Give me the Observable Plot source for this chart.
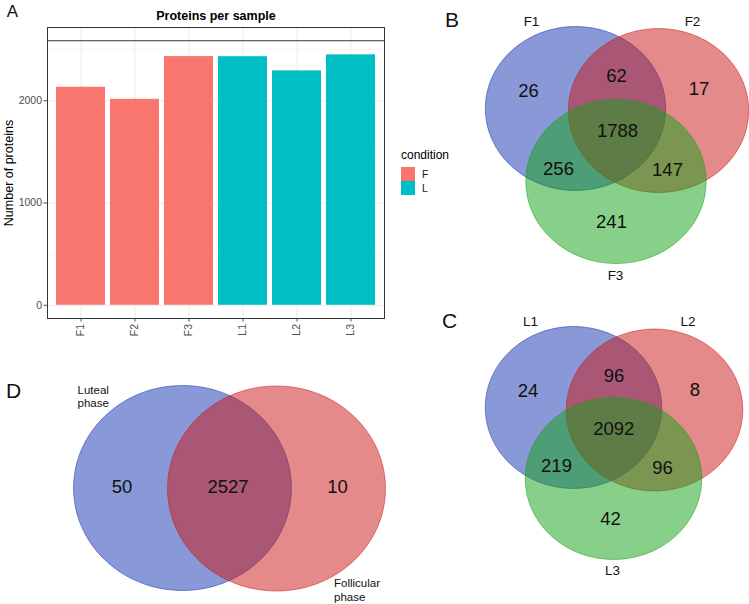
<!DOCTYPE html>
<html>
<head>
<meta charset="utf-8">
<script src="https://cdn.jsdelivr.net/npm/d3@7"></script>
<script src="https://cdn.jsdelivr.net/npm/@observablehq/plot@0.6"></script>
<style>
  html, body { margin: 0; padding: 0; background: white; }
  #page { position: relative; width: 749px; height: 604px; overflow: hidden; background: white; font-family: "Liberation Sans", Arial, sans-serif; }
  #page svg { position: absolute; left: 0; top: 0; }
  .legend { position: absolute; left: 401px; top: 148px; font-family: "Liberation Sans", Arial, sans-serif; }
  .legend .ttl { font-size: 12px; color: #000; line-height: 14px; margin-bottom: 5px; }
  .legend .item { display: flex; align-items: center; height: 14px; }
  .legend .sw { width: 14px; height: 14px; }
  .legend .lab { font-size: 10.5px; color: #1a1a1a; margin-left: 7px; }
</style>
</head>
<body>
<div id="page"></div>
<script>
// ---------------- DATA ----------------
// Panel A: proteins per sample
const samples = ["F1", "F2", "F3", "L1", "L2", "L3"];
const proteinCounts = [2132, 2014, 2432, 2431, 2292, 2449];
const sampleConditions = ["F", "F", "F", "L", "L", "L"];
const conditionLevels = ["F", "L"];
const conditionColors = ["#F8766D", "#00BFC4"];
const totalProteins = 2587;              // horizontal reference line
const yTicks = [0, 1000, 2000];
const yMinorTicks = [500, 1500, 2500];

// Panel B: follicular replicates (regions: 1 only, 2 only, 3 only, 1&2, 1&3, 2&3, all)
const follicularSets = ["F1", "F2", "F3"];
const follicularRegions = [26, 17, 241, 62, 256, 147, 1788];
// Panel C: luteal replicates
const lutealSets = ["L1", "L2", "L3"];
const lutealRegions = [24, 8, 42, 96, 219, 96, 2092];
// Panel D: phases (regions: luteal only, both, follicular only)
const phaseSets = ["Luteal\nphase", "Follicular\nphase"];
const phaseRegions = [50, 2527, 10];

const vennColors = ["rgb(19,49,173)", "rgb(203,21,21)", "rgb(17,161,21)"];

// ---------------- LAYOUT (page pixel positions) ----------------
const layoutB = {
  circles: [[575, 108], [658, 110], [615.5, 181]], r: 82, aspect: 1.1,
  setPos: [[531, 21], [692, 21], [615, 275]],
  regionPos: [[528, 91], [698.5, 89], [611, 222], [616, 75.5], [558, 168.5], [667, 170], [617, 130.5]],
  letter: ["B", 451.5, 20]
};
const layoutC = {
  circles: [[573, 407], [654, 409.5], [613, 478]], r: 81, aspect: 1.09,
  setPos: [[530, 321.5], [687.5, 321.5], [612, 570]],
  regionPos: [[527.5, 390.5], [694.5, 389.5], [610, 519], [613.5, 376], [556, 466], [662, 468], [613.3, 429]],
  letter: ["C", 449, 321]
};
const layoutD = {
  circles: [[182, 487.5], [276, 488]], r: 102.5, aspect: 1.063,
  setPos: [[77, 384], [333.5, 577.5]],
  regionPos: [[121.5, 487], [227.5, 487], [337, 487]],
  letter: ["D", 13, 391]
};

const FONT = "Liberation Sans, Arial, Helvetica, sans-serif";

// custom ellipse symbol (for the slightly wide Venn circles)
function ellipseSymbol(aspect) {
  return {
    draw(context, size) {
      const ry = Math.sqrt(size / Math.PI), rx = ry * aspect, k = 0.5522847498;
      context.moveTo(rx, 0);
      context.bezierCurveTo(rx, k * ry, k * rx, ry, 0, ry);
      context.bezierCurveTo(-k * rx, ry, -rx, k * ry, -rx, 0);
      context.bezierCurveTo(-rx, -k * ry, -k * rx, -ry, 0, -ry);
      context.bezierCurveTo(k * rx, -ry, rx, -k * ry, rx, 0);
      context.closePath();
    }
  };
}

const page = document.getElementById("page");

// ---------------- PANEL A ----------------
const barData = samples.map((s, i) => ({sample: s, count: proteinCounts[i], condition: sampleConditions[i]}));

const plotA = Plot.plot({
  width: 400, height: 345,
  marginLeft: 47, marginRight: 16, marginTop: 27, marginBottom: 27,
  style: {fontFamily: FONT, fontSize: "10.5px", color: "#4d4d4d", background: "transparent", overflow: "visible"},
  x: {domain: samples, paddingInner: 0.1, paddingOuter: 0.15, label: null, tickRotate: -90, tickSize: 3.5, tickPadding: 2},
  y: {domain: [-0.05 * totalProteins, 1.05 * totalProteins], ticks: yTicks, tickFormat: d3.format("d"), label: null, tickSize: 3.5, tickPadding: 2},
  color: {domain: conditionLevels, range: conditionColors},
  marks: [
    Plot.ruleY(yMinorTicks, {stroke: "#f3f3f3", strokeWidth: 0.7}),
    Plot.ruleY(yTicks, {stroke: "#ebebeb", strokeWidth: 1}),
    Plot.ruleX(samples, {stroke: "#ebebeb", strokeWidth: 1}),
    Plot.barY(barData, {x: "sample", y: "count", fill: "condition"}),
    Plot.ruleY([totalProteins], {stroke: "#333333", strokeWidth: 1.1}),
    Plot.frame({stroke: "#333333", strokeWidth: 1})
  ]
});
page.appendChild(plotA);

// ---------------- VENN PANELS + LABELS (overlay) ----------------
function vennTables(layout, sets, regions) {
  const circles = layout.circles.map((c, i) => ({cx: c[0], cy: c[1], color: vennColors[i]}));
  const setLabels = layout.setPos.map((p, i) => ({x: p[0], y: p[1], text: sets[i]}));
  const regionLabels = layout.regionPos.map((p, i) => ({x: p[0], y: p[1], text: String(regions[i])}));
  return {circles, setLabels, regionLabels};
}
const vB = vennTables(layoutB, follicularSets, follicularRegions);
const vC = vennTables(layoutC, lutealSets, lutealRegions);
const vD = vennTables(layoutD, phaseSets, phaseRegions);

function circleMarks(v, layout) {
  return v.circles.map((c) => Plot.dot([c], {
    x: "cx", y: "cy", r: layout.r, symbol: ellipseSymbol(layout.aspect),
    fill: "color", fillOpacity: 0.5, stroke: "color", strokeOpacity: 0.5, strokeWidth: 1
  }));
}

const letters = [layoutB.letter, layoutC.letter, layoutD.letter].map(([t, x, y]) => ({t, x, y}));

const overlay = Plot.plot({
  width: 749, height: 604, margin: 0,
  style: {fontFamily: FONT, background: "transparent", overflow: "visible"},
  x: {domain: [0, 749], range: [0, 749], axis: null},
  y: {domain: [0, 604], range: [0, 604], axis: null},
  color: {type: "identity"},
  marks: [
    ...circleMarks(vB, layoutB),
    ...circleMarks(vC, layoutC),
    ...circleMarks(vD, layoutD),
    // region counts
    Plot.text([...vB.regionLabels, ...vC.regionLabels, ...vD.regionLabels], {x: "x", y: "y", text: "text", fontSize: 18.5, fill: "#111", fontFamily: FONT}),
    // set labels B, C
    Plot.text([...vB.setLabels, ...vC.setLabels], {x: "x", y: "y", text: "text", fontSize: 13.5, fill: "#111", fontFamily: FONT}),
    // set labels D (multi-line, left aligned)
    Plot.text(vD.setLabels, {x: "x", y: "y", text: "text", fontSize: 11.5, fill: "#111", textAnchor: "start", lineAnchor: "top", lineHeight: 1.15, fontFamily: FONT}),
    // panel letters
    Plot.text(letters, {x: "x", y: "y", text: "t", fontSize: 21, fill: "#111", fontFamily: FONT}),
    Plot.text([{t: "A", x: 12, y: 11}], {x: "x", y: "y", text: "t", fontSize: 17, fill: "#111", fontFamily: FONT}),
    // panel A title and y-axis title
    Plot.text([{t: "Proteins per sample", x: 215.5, y: 15}], {x: "x", y: "y", text: "t", fontSize: 12.5, fontWeight: "bold", fill: "#000", fontFamily: FONT}),
    Plot.text([{t: "Number of proteins", x: 8.5, y: 172.5}], {x: "x", y: "y", text: "t", fontSize: 12.5, rotate: -90, fill: "#000", fontFamily: FONT})
  ]
});
page.appendChild(overlay);

// ---------------- LEGEND (panel A) ----------------
const legend = document.createElement("div");
legend.className = "legend";
const ttl = document.createElement("div");
ttl.className = "ttl";
ttl.textContent = "condition";
legend.appendChild(ttl);
conditionLevels.forEach((lv, i) => {
  const item = document.createElement("div");
  item.className = "item";
  const sw = document.createElement("div");
  sw.className = "sw";
  sw.style.background = conditionColors[i];
  const lab = document.createElement("span");
  lab.className = "lab";
  lab.textContent = lv;
  item.appendChild(sw);
  item.appendChild(lab);
  legend.appendChild(item);
});
page.appendChild(legend);
</script>
</body>
</html>
